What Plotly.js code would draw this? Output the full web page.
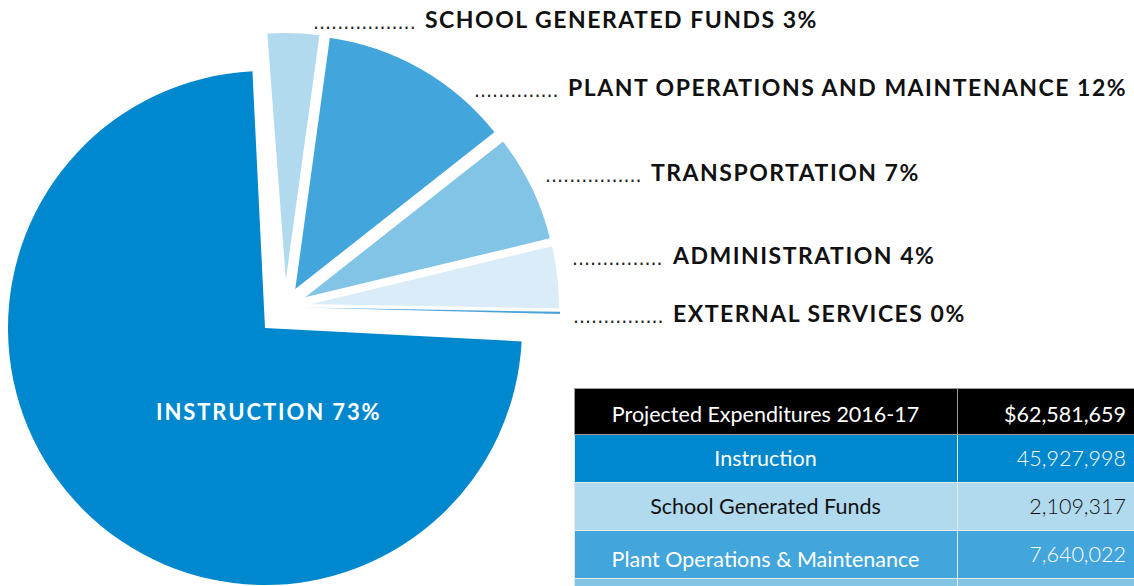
<!DOCTYPE html>
<html>
<head>
<meta charset="utf-8">
<script src="https://cdn.plot.ly/plotly-3.0.1.min.js"></script>
<style>
html,body{margin:0;padding:0;background:#fff;overflow:hidden;}
#chart{width:1134px;height:586px;}
</style>
</head>
<body>
<div id="chart"></div>
<script>
// ---- data ----
var categories = ["Instruction", "School Generated Funds", "Plant Operations & Maintenance", "Transportation", "Administration", "External Services"];
var labelNames = ["INSTRUCTION", "SCHOOL GENERATED FUNDS", "PLANT OPERATIONS AND MAINTENANCE", "TRANSPORTATION", "ADMINISTRATION", "EXTERNAL SERVICES"];
var expenditures = [45927998, 2109317, 7640022, 4294000, 2520000, 90322];
var tableTitle = "Projected Expenditures 2016-17";
var tableRows = ["Instruction", "School Generated Funds", "Plant Operations & Maintenance", "Transportation"];
var tableValues = [45927998, 2109317, 7640022, 4294000];
var visibleTableRows = 3;

// ---- styles ----
var sliceColors = ["#0088ce", "#b1daef", "#42a5dc", "#82c4e6", "#d9ecf7", "#4aa3da"];
var rowFill = ["#0088ce", "#b1daef", "#42a5dc", "#82c4e6"];
var rowFont = ["#ffffff", "#111111", "#ffffff", "#111111"];
var W = 1134, H = 586;
function px(x){ return x / W; }
function py(y){ return 1 - y / H; }
function spaced(t, ls){ return '<span style="letter-spacing:' + ls + 'px">' + t + '</span>'; }

var total = expenditures.reduce(function(a,b){return a+b;}, 0);
var pct = expenditures.map(function(v){ return Math.round(v / total * 100); });
function fmt(n){ return n.toString().replace(/\B(?=(\d{3})+(?!\d))/g, ","); }

var transparent = "rgba(0,0,0,0)";
// pie A: the main (unpulled) slice
var pieA = {
  type: "pie", values: expenditures, labels: categories, sort: false,
  direction: "clockwise", rotation: 93,
  textinfo: "none", hoverinfo: "label+percent", showlegend: false,
  marker: { colors: sliceColors.map(function(c,i){ return i === 0 ? c : transparent; }),
            line: { width: 0 } },
  domain: { x: [px(8), px(522)], y: [py(585), py(71)] }
};
// pie B: the exploded small slices
var pieB = {
  type: "pie", values: expenditures, labels: categories, sort: false,
  direction: "clockwise", rotation: 91.5,
  textinfo: "none", hoverinfo: "label+percent", showlegend: false,
  pull: expenditures.map(function(v,i){ return i === 0 ? 0 : 0.07; }),
  marker: { colors: sliceColors.map(function(c,i){ return i === 0 ? transparent : c; }),
            line: { color: "#ffffff", width: expenditures.map(function(v,i){ return (i === 0 || i === 5) ? 0 : 2; }) } },
  domain: { x: [px(10), px(560)], y: [py(582), py(32)] }
};

var blank = tableRows.map(function(){ return ""; });
// table fills & borders
var tableBack = {
  type: "table",
  domain: { x: [px(574), 1], y: [0, py(388)] },
  columnwidth: [383, 177],
  header: {
    values: ["", ""], height: 46,
    fill: { color: "#000000" },
    line: { color: "#9a9a9a", width: 1 },
    font: { family: "Lato, sans-serif", size: 21, color: "#ffffff" }
  },
  cells: {
    values: [blank, blank], height: 48,
    fill: { color: [rowFill, rowFill] },
    line: { color: "#e8e8e8", width: 1 },
    font: { family: "Lato, sans-serif", size: 21, color: "#ffffff" }
  }
};

// table texts: one transparent single-row table per row, centred vertically in the rows above
var nRows = visibleTableRows;
var col1 = [tableTitle].concat(tableRows.slice(0, nRows));
var col2 = ["$" + fmt(total)].concat(tableValues.slice(0, nRows).map(fmt));
var txtColors = ["#ffffff"].concat(rowFont.slice(0, nRows));
var rowTops = [388, 434, 482, 530];
var textTraces = col1.map(function(t, k){
  var top = rowTops[k] + (k === 0 ? 10 : 8);
  return {
    type: "table",
    domain: { x: [px(574), 1], y: [py(Math.min(top + 47, H)), py(top)] },
    columnwidth: [383, 177],
    header: {
      values: [t, col2[k]],
      align: ["center", "right"], height: 47,
      fill: { color: transparent }, line: { color: transparent, width: 0 },
      font: { family: "Lato, sans-serif", size: 21.5, color: txtColors[k], weight: [400, k === 0 ? 400 : 300] }
    },
    cells: { values: [[], []], fill: { color: transparent }, line: { color: transparent, width: 0 } }
  };
});

// label placement (text start x, text centre y) and leader dot counts, by slice index
var labelPos = {1: [423, 19, 17], 2: [566, 87, 14], 3: [649, 172, 16], 4: [670, 255, 15], 5: [671, 313, 15]};
var annotations = [];
Object.keys(labelPos).forEach(function(k){
  var i = +k, p = labelPos[k];
  annotations.push({
    xref: "paper", yref: "paper", x: px(p[0]), y: py(p[1]), xanchor: "left", yanchor: "middle",
    text: spaced(labelNames[i] + " " + pct[i] + "%", 1.5), showarrow: false,
    font: { family: "Lato, sans-serif", size: 23, color: "#111111", weight: 700 }
  });
  annotations.push({
    xref: "paper", yref: "paper", x: px(p[0] - 5), y: py(p[1] + 3), xanchor: "right", yanchor: "middle",
    text: new Array(p[2] + 1).join("."), showarrow: false,
    font: { family: "DejaVu Sans, sans-serif", size: 19, color: "#222222" }
  });
});
annotations.push({
  xref: "paper", yref: "paper", x: px(269), y: py(411), xanchor: "center", yanchor: "middle",
  text: spaced(labelNames[0] + " " + pct[0] + "%", 1.9), showarrow: false,
  font: { family: "Lato, sans-serif", size: 22, color: "#ffffff", weight: 700 }
});

var layout = {
  width: W, height: H,
  margin: { l: 0, r: 0, t: 0, b: 0, pad: 0 },
  paper_bgcolor: "#ffffff", plot_bgcolor: "#ffffff",
  showlegend: false,
  annotations: annotations
};
Plotly.newPlot("chart", [pieA, pieB, tableBack].concat(textTraces), layout, { displayModeBar: false, staticPlot: true });
</script>
</body>
</html>
